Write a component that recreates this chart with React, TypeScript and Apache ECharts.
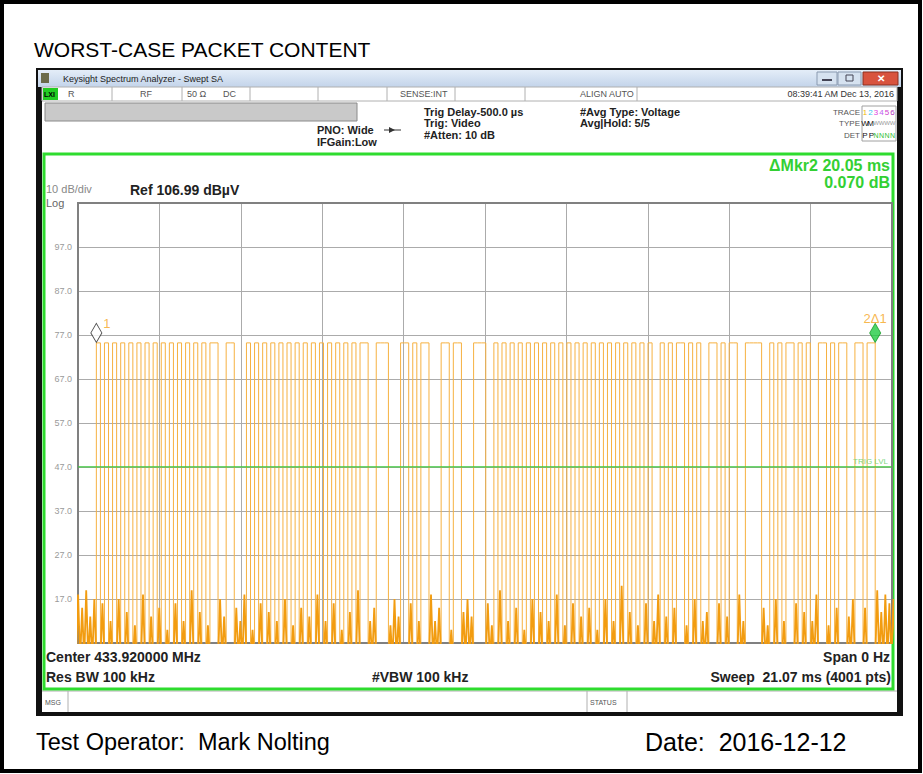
import React, { useEffect, useRef } from "react";
import * as echarts from "echarts";

// ---------- data ----------
const BOTTOM_LEVEL = 6.99; // dBµV at the bottom grid line (Ref 106.99, 10 dB/div)
const TOP_LEVEL = 106.99;
const SWEEP_MS = 21.07;
const X_DIVS = 10;

// Pulse train, one character per time unit: 1 = carrier on, 0 = off
const PULSE_GROUPS = [
  "00000",
  "1010101010101010101010101010" + "110011" + "000",
  "10101010101010101010",
  "1010101011" + "00" + "111" + "000",
  "1101011" + "000",
  "11011" + "000",
  "111" + "00",
  "1010101010101010101010101010101010101010" + "0",
  "1010110101" + "00",
  "1101011" + "00",
  "1111" + "00",
  "1010110101" + "00",
  "1101011" + "00",
  "11011",
  "000000",
];
const UNIT_MS = 0.105;
const START_MS = -0.05;
const HIGH_DBUV = 75.2;
const FLOOR_DBUV = 3;
// noise peak (dBµV) in each "off" unit, read along the bottom of the trace
const NOISE_PEAKS = [
  18, 15, 19, 13, 17,
  16, 12, 17, 14, 11, 18, 13, 15, 10, 16, 12, 19, 14, 11, 17, 13, 15, 12, 18,
  10, 16, 14, 12, 17, 11, 15, 13, 18, 12,
  16, 10, 14, 19, 12, 15, 11, 17, 13,
  16, 12, 18, 12, 15,
  10, 14, 17, 13,
  16, 11,
  19, 12, 15, 10, 17, 14, 12, 18, 11, 16, 13, 15, 10, 17, 12, 20, 14, 11, 16, 12, 18,
  13, 15, 11, 17, 12, 14,
  16, 13, 18, 12,
  15, 11,
  17, 12, 16, 14, 12, 18,
  11, 15, 13, 17,
  15,
  19, 14, 18, 16, 17, 15,
];
const TRIG_LEVEL = 47.0;
const MARKER_LABELS = ["1", "2Δ1"];

// ---------- build the trace from the data ----------
function buildTrace() {
  const pattern = PULSE_GROUPS.join("");
  const pulses: any[] = [];
  const noise: any[] = [];
  let prev = "";
  let n = 0;
  let firstOn = -1;
  let lastOff = -1;
  for (let i = 0; i < pattern.length; i++) {
    const t0 = START_MS + i * UNIT_MS;
    const t1 = t0 + UNIT_MS;
    const c = pattern[i];
    if (c === "1") {
      if (firstOn < 0) firstOn = t0;
      if (prev !== "1") {
        noise.push([t0, "-"]);
        pulses.push([t0, FLOOR_DBUV]);
        pulses.push([t0, HIGH_DBUV]);
      }
      pulses.push([t1, HIGH_DBUV]);
      lastOff = t1;
    } else {
      if (prev === "1") {
        pulses.push([t0, FLOOR_DBUV]);
        pulses.push([t0, "-"]);
      }
      if (prev !== "0") noise.push([t0, FLOOR_DBUV]);
      const pk = NOISE_PEAKS[n++ % NOISE_PEAKS.length];
      noise.push([t0 + UNIT_MS * 0.5, pk]);
      noise.push([t1, FLOOR_DBUV]);
    }
    prev = c;
  }
  return { pulses, noise, firstOn, lastOff };
}

const FONT = "'Liberation Sans', Arial, sans-serif";

function txt(x: number, y: number, s: string, size: number, color: string, opts: any = {}) {
  const font = `${opts.bold ? "bold " : ""}${size}px ${FONT}`;
  return {
    type: "text",
    x,
    y,
    z: 50,
    silent: true,
    style: {
      text: s,
      fill: color,
      font,
      textAlign: opts.align || "left",
      align: opts.align || "left",
      textVerticalAlign: "middle",
      verticalAlign: "middle",
    },
  };
}
function box(x: number, y: number, w: number, h: number, fill: string, stroke?: string, lw = 1, z = 1) {
  return {
    type: "rect",
    z,
    silent: true,
    shape: { x, y, width: w, height: h },
    style: { fill, stroke: stroke || null, lineWidth: lw },
  };
}
function ln(x1: number, y1: number, x2: number, y2: number, color: string, lw = 1, z = 2) {
  return {
    type: "line",
    z,
    silent: true,
    shape: { x1, y1, x2, y2 },
    style: { stroke: color, lineWidth: lw },
  };
}

export default function App() {
  const ref = useRef<HTMLDivElement>(null);
  useEffect(() => {
    if (!ref.current) return;
    const chart = echarts.init(ref.current, undefined, { renderer: "svg" });
    const { pulses, noise, firstOn, lastOff } = buildTrace();
    const shift = (arr: any[]) => arr.map(([t, v]) => [t, v === "-" ? "-" : v - BOTTOM_LEVEL]);
    const span = TOP_LEVEL - BOTTOM_LEVEL;

    const traceColors = ["#f2b800", "#38c8f0", "#e03ce0", "#c060f0", "#d040d0", "#b030c0"];
    const slots = [865, 870.5, 876, 881.5, 887, 892.5];

    const graphic: any[] = [
      // page frame
      box(2, 2, 918, 769, "none", "#000", 4, 0),
      txt(34, 49, "WORST-CASE PACKET CONTENT", 21, "#000"),
      // window
      box(36, 68, 867, 648, "#111", undefined, 1, 0),
      box(42, 71, 855, 641, "#fff", undefined, 1, 0),
      {
        type: "rect",
        z: 1,
        silent: true,
        shape: { x: 38, y: 70, width: 863, height: 17 },
        style: {
          fill: new echarts.graphic.LinearGradient(0, 0, 0, 1, [
            { offset: 0, color: "#e4edf8" },
            { offset: 1, color: "#c3d4ea" },
          ]),
        },
      },
      box(41, 73, 8, 10, "#6b6b4a", undefined, 1, 2),
      txt(63, 79, "Keysight Spectrum Analyzer - Swept SA", 9, "#222"),
      box(817, 72, 20, 13, "#d6e2f0", "#8a9ab0", 1, 2),
      ln(822, 80, 832, 80, "#445", 2, 3),
      box(838, 72, 23, 13, "#d6e2f0", "#8a9ab0", 1, 2),
      box(846, 75, 7, 6, "none", "#445", 1, 3),
      box(863, 72, 35, 13, "#d8533e", "#8a3020", 1, 2),
      txt(880.5, 78.5, "✕", 10, "#fff", { align: "center", bold: true }),
      // status row
      box(42, 87, 855, 14, "#fff", "#b0b0b0", 1, 1),
      box(43, 88, 15, 12, "#22cc22", undefined, 1, 2),
      txt(44, 94, "LXI", 7, "#000", { bold: true }),
      ...[112, 182, 250, 318, 387, 455, 525, 637].map((x) => ln(x, 87, x, 101, "#b0b0b0", 1, 2)),
      txt(68, 94, "R", 9, "#555"),
      txt(140, 94, "RF", 9, "#555"),
      txt(187, 94, "50 Ω", 9, "#555"),
      txt(223, 94, "DC", 9, "#555"),
      txt(400, 94, "SENSE:INT", 9, "#555"),
      txt(580, 94, "ALIGN AUTO", 9, "#555"),
      txt(894, 94, "08:39:41 AM Dec 13, 2016", 9, "#333", { align: "right" }),
      // header settings
      box(45, 103, 312, 18, "#c9c9c9", "#8a8a8a", 1, 2),
      txt(317, 130, "PNO: Wide", 11, "#222", { bold: true }),
      txt(317, 142, "IFGain:Low", 11, "#222", { bold: true }),
      ln(384, 130, 401, 130, "#333", 1, 3),
      {
        type: "polygon",
        z: 3,
        silent: true,
        shape: { points: [[389, 127], [395, 130], [389, 133]] },
        style: { fill: "#333" },
      },
      txt(424, 112, "Trig Delay-500.0 µs", 11, "#222", { bold: true }),
      txt(424, 123, "Trig: Video", 11, "#222", { bold: true }),
      txt(424, 135, "#Atten: 10 dB", 11, "#222", { bold: true }),
      txt(580, 112, "#Avg Type: Voltage", 11, "#222", { bold: true }),
      txt(580, 123, "Avg|Hold: 5/5", 11, "#222", { bold: true }),
      txt(860, 112, "TRACE", 8, "#555", { align: "right" }),
      txt(860, 123, "TYPE", 8, "#555", { align: "right" }),
      txt(860, 135, "DET", 8, "#555", { align: "right" }),
      box(862, 106, 34, 35, "none", "#a0a0a0", 1, 2),
      ...["1", "2", "3", "4", "5", "6"].map((d, i) =>
        txt(slots[i], 112, d, 8, traceColors[i], { align: "center" })
      ),
      txt(slots[0], 123, "W", 8, "#111", { align: "center" }),
      txt(slots[1], 123, "M", 8, "#111", { align: "center" }),
      ...[2, 3, 4, 5].map((i) => txt(slots[i], 123, "W", 6, "#999", { align: "center" })),
      txt(slots[0], 135, "P", 8, "#111", { align: "center" }),
      txt(slots[1] + 1, 135, "P", 8, "#111", { align: "center" }),
      ...[2, 3, 4, 5].map((i) => txt(slots[i], 135, "N", 7, "#2fc02f", { align: "center" })),
      // green measurement frame
      box(44, 154, 849, 535, "none", "#2edc2e", 3, 5),
      txt(890, 165, "ΔMkr2 20.05 ms", 16, "#33d033", { bold: true, align: "right" }),
      txt(890, 182, "0.070 dB", 16, "#33d033", { bold: true, align: "right" }),
      txt(46, 189, "10 dB/div", 11, "#888"),
      txt(46, 203, "Log", 11, "#666"),
      txt(130, 190, "Ref 106.99 dBµV", 14, "#222", { bold: true }),
      txt(888, 461, "TRIG LVL", 8, "#7fd87f", { align: "right" }),
      txt(46, 657, "Center 433.920000 MHz", 14, "#222", { bold: true }),
      txt(46, 677, "Res BW 100 kHz", 14, "#222", { bold: true }),
      txt(372, 677, "#VBW 100 kHz", 14, "#222", { bold: true }),
      txt(890, 657, "Span 0 Hz", 14, "#222", { bold: true, align: "right" }),
      txt(891, 677, "Sweep  21.07 ms (4001 pts)", 14, "#222", { bold: true, align: "right" }),
      // message row
      ln(42, 691, 897, 691, "#b0b0b0", 1, 2),
      ln(68, 691, 68, 712, "#b0b0b0", 1, 2),
      ln(587, 691, 587, 712, "#b0b0b0", 1, 2),
      ln(627, 691, 627, 712, "#b0b0b0", 1, 2),
      txt(45, 702, "MSG", 7, "#555"),
      txt(590, 702, "STATUS", 7, "#555"),
      // footer
      txt(36, 742, "Test Operator:  Mark Nolting", 23.5, "#000"),
      txt(645, 742, "Date:  2016-12-12", 25, "#000"),
    ];

    chart.setOption({
      animation: false,
      backgroundColor: "#fff",
      graphic,
      grid: { left: 78, top: 203, width: 814, height: 440, show: true, borderColor: "#808080", borderWidth: 2, z: 10 },
      xAxis: {
        type: "value",
        min: 0,
        max: SWEEP_MS,
        interval: SWEEP_MS / X_DIVS,
        axisLabel: { show: false },
        axisTick: { show: false },
        axisLine: { show: false },
        splitLine: { lineStyle: { color: "#ababab", width: 1 } },
      },
      yAxis: {
        type: "value",
        min: 0,
        max: span,
        interval: 10,
        axisTick: { show: false },
        axisLine: { show: false },
        splitLine: { lineStyle: { color: "#ababab", width: 1 } },
        axisLabel: {
          margin: 6,
          color: "#9a9a9a",
          fontSize: 9,
          fontFamily: FONT,
          formatter: (v: number) => (v <= 0 || v >= span - 0.01 ? "" : (v + BOTTOM_LEVEL).toFixed(1)),
        },
      },
      series: [
        {
          type: "line",
          data: [
            [0, TRIG_LEVEL - BOTTOM_LEVEL],
            [SWEEP_MS, TRIG_LEVEL - BOTTOM_LEVEL],
          ],
          showSymbol: false,
          symbol: "none",
          z: 25,
          silent: true,
          lineStyle: { color: "#3cc83c", width: 1.2 },
        },
        {
          type: "line",
          data: shift(pulses),
          showSymbol: false,
          symbol: "none",
          connectNulls: false,
          clip: true,
          z: 20,
          lineStyle: { color: "#f6b140", width: 1 },
        },
        {
          type: "line",
          data: shift(noise),
          showSymbol: false,
          symbol: "none",
          connectNulls: false,
          clip: true,
          z: 21,
          lineStyle: { color: "#f29c10", width: 1.8 },
        },
        {
          type: "scatter",
          z: 30,
          symbol: "diamond",
          symbolSize: [11, 19],
          symbolOffset: [0, -10],
          data: [
            {
              value: [firstOn, HIGH_DBUV - BOTTOM_LEVEL],
              itemStyle: { color: "#fff", borderColor: "#222", borderWidth: 1 },
              label: { show: true, formatter: MARKER_LABELS[0], position: "right", distance: 1, offset: [0, -9], color: "#f5a51e", fontSize: 13, fontFamily: FONT },
            },
            {
              value: [lastOff, HIGH_DBUV - BOTTOM_LEVEL],
              itemStyle: { color: "#22cc44", borderColor: "#119922", borderWidth: 1 },
              label: { show: true, formatter: MARKER_LABELS[1], position: "top", distance: -2, color: "#f5a51e", fontSize: 13, fontFamily: FONT },
            },
          ],
        },
      ],
    });
    return () => chart.dispose();
  }, []);
  return <div ref={ref} style={{ position: "absolute", left: 0, top: 0, width: 923, height: 774 }} />;
}
